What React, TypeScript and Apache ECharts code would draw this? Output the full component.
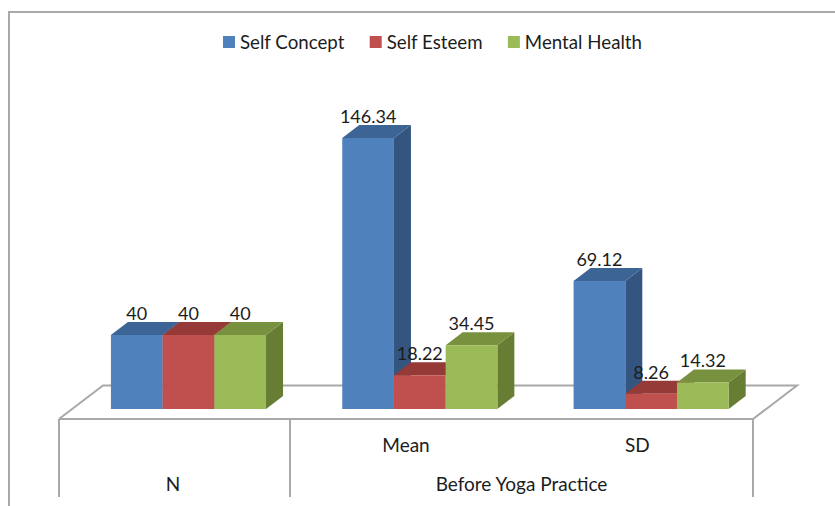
import React, { useEffect, useRef } from "react";
import * as echarts from "echarts";

const statistics = ["N", "Mean", "SD"];
const tickLabels = ["", "Mean", "SD"];
const selfConcept = [40, 146.34, 69.12];
const selfEsteem = [40, 18.22, 8.26];
const mentalHealth = [40, 34.45, 14.32];
const seriesNames = ["Self Concept", "Self Esteem", "Mental Health"];
const groupLabels = ["N", "Before Yoga Practice"];

const FONT = "Lato, 'Open Sans', sans-serif";
const TEXT = "#1c1c1c";
const FRAME = "#a9a9a9";

// Extrusion of each column, in pixels, and its shift from the floor's front band.
const DEPTH_X = 17;
const DEPTH_Y = 13;
const BAND_SHIFT = 13.8;
const BAR_RATIO = 0.2235;

const shades = [
  { front: "#4f81bd", top: "#3c6494", side: "#34557f" },
  { front: "#c0504d", top: "#963a38", side: "#8c3432" },
  { front: "#9bbb59", top: "#77913f", side: "#667d33" },
];

// Draws one column as a front face, a top face and a side face, with its value above.
function columnRenderer(seriesIndex: number) {
  return (_params: any, api: any) => {
    const cat = api.value(0);
    const val = api.value(1);
    const [cx, y0] = api.coord([cat, 0]);
    const [, y1] = api.coord([cat, val]);
    const band = api.size([1, 0])[0];
    const w = band * BAR_RATIO;
    const x0 = cx + BAND_SHIFT + (seriesIndex - 1) * w - w / 2;
    const x1 = x0 + w;
    const c = shades[seriesIndex];
    return {
      type: "group",
      children: [
        {
          type: "polygon",
          shape: { points: [[x1, y0], [x1 + DEPTH_X, y0 - DEPTH_Y], [x1 + DEPTH_X, y1 - DEPTH_Y], [x1, y1]] },
          style: { fill: c.side },
        },
        {
          type: "polygon",
          shape: { points: [[x0, y1], [x0 + DEPTH_X, y1 - DEPTH_Y], [x1 + DEPTH_X, y1 - DEPTH_Y], [x1, y1]] },
          style: { fill: c.top },
        },
        {
          type: "rect",
          shape: { x: x0, y: y1, width: w, height: y0 - y1 },
          style: { fill: c.front },
        },
        {
          type: "text",
          z2: 10,
          x: (x0 + x1) / 2,
          y: y1 - 22,
          style: {
            text: String(val),
            fill: TEXT,
            font: `18px ${FONT}`,
            align: "center",
            verticalAlign: "middle",
          },
        },
      ],
    };
  };
}

function customSeries(index: number, values: number[]) {
  return {
    type: "custom",
    name: seriesNames[index],
    renderItem: columnRenderer(index),
    encode: { x: 0, y: 1 },
    itemStyle: { color: shades[index].front },
    data: values.map((v, i) => [i, v]),
    clip: false,
  };
}

const frameLine = (points: number[][]) => ({
  type: "polyline",
  shape: { points },
  style: { stroke: FRAME, lineWidth: 2, fill: "none" },
  silent: true,
});

const groupText = (text: string, x: number) => ({
  type: "text",
  x,
  y: 483.5,
  style: { text, fill: TEXT, font: `19px ${FONT}`, align: "center", verticalAlign: "middle" },
});

export default function App() {
  const ref = useRef<HTMLDivElement>(null);

  useEffect(() => {
    const chart = echarts.init(ref.current!, undefined, { renderer: "svg" });
    chart.setOption({
      animation: false,
      backgroundColor: "#ffffff",
      textStyle: { fontFamily: FONT },
      legend: {
        data: seriesNames,
        left: 218,
        top: 27.5,
        itemWidth: 12,
        itemHeight: 12,
        itemGap: 25,
        icon: "rect",
        textStyle: { fontSize: 18.7, color: TEXT, fontFamily: FONT },
      },
      grid: { left: 59, width: 694, top: 112.7, height: 296.3 },
      xAxis: {
        type: "category",
        data: statistics,
        offset: 10,
        axisLine: { show: false },
        axisTick: { show: false },
        axisLabel: {
          margin: 16,
          fontSize: 19,
          color: TEXT,
          fontFamily: FONT,
          formatter: (_v: string, i: number) => tickLabels[i],
        },
      },
      yAxis: { type: "value", min: 0, max: 160, show: false },
      series: [
        customSeries(0, selfConcept),
        customSeries(1, selfEsteem),
        customSeries(2, mentalHealth),
      ],
      graphic: {
        elements: [
          // Chart border: only the top and left edges fall inside the page.
          frameLine([[9, 506], [9, 12], [835, 12]]),
          // Floor outline behind the columns.
          { ...frameLine([[59, 419], [103, 385.5], [797, 385.5], [753, 419], [59, 419]]), z: -1 },
          // Category table rules below the floor.
          frameLine([[59, 419], [59, 497]]),
          frameLine([[290, 419], [290, 497]]),
          frameLine([[753, 419], [753, 497]]),
          groupText(groupLabels[0], 173),
          groupText(groupLabels[1], 521.5),
        ],
      },
    });
    return () => chart.dispose();
  }, []);

  return <div ref={ref} style={{ position: "fixed", left: 0, top: 0, width: 835, height: 506 }} />;
}
